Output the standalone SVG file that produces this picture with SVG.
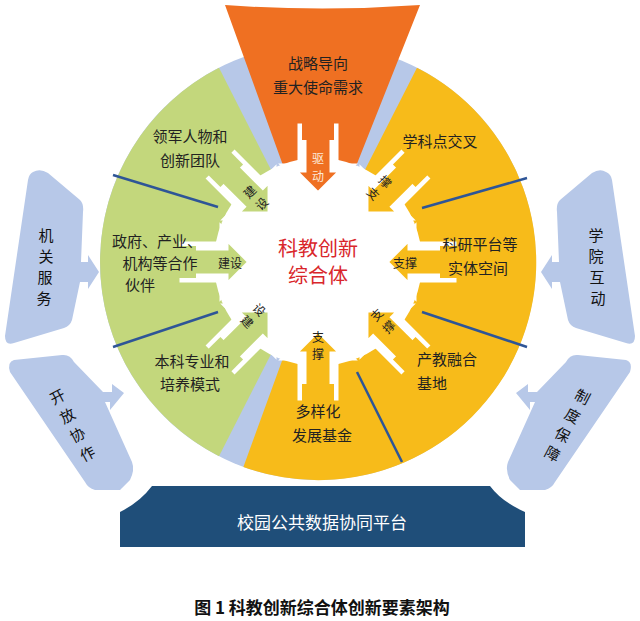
<svg xmlns="http://www.w3.org/2000/svg" width="640" height="621" viewBox="0 0 640 621">
<style>
text{font-family:"Noto Sans CJK SC","Noto Sans",sans-serif;text-anchor:middle;dominant-baseline:central}
.s{font-size:15px;fill:#222}
.a{font-size:12px;fill:#222}
.v{font-size:15px;fill:#111}
.side{fill:#b7c8e8}
.div{stroke:#2e5597;stroke-width:2.5}
</style>
<rect width="640" height="621" fill="#fff"/>
<g id="sides">
<path class="side" d="M33,172 Q40,168 48,173 L80,200 Q84,204 83,212 L81,262 L88,262 L88,255 L99,272 L88,289 L88,282 L80,282 L72,320 Q70,326 64,328 L14,343 Q5,346 5,336 L28,180 Q29,174 33,172 Z"/>
<path class="side" d="M14,360 L62,355 Q70,354 74,362 L103,392 L112,392 L112,384 L124,393 L110,410 L110,402 L105,402 L132,462 Q135,470 130,480 L120,490 L95,490 Q88,488 85,482 L10,372 Q7,362 14,360 Z"/>
<path class="side" d="M606,172 Q600,168 592,173 L560,200 Q556,204 557,212 L559,262 L552,262 L552,255 L541,272 L552,289 L552,282 L560,282 L568,320 Q570,326 576,328 L626,343 Q635,346 635,336 L612,180 Q611,174 606,172 Z"/>
<path class="side" d="M626,360 L578,355 Q570,354 566,362 L537,392 L528,392 L528,384 L516,393 L530,410 L530,402 L535,402 L508,462 Q505,470 510,480 L520,490 L545,490 Q552,488 555,482 L630,372 Q633,362 626,360 Z"/>
<text x="46" y="234" class="v">机</text><text x="46" y="255" class="v">关</text><text x="45" y="276" class="v">服</text><text x="44" y="297" class="v">务</text>
<text transform="translate(57,396) rotate(-28)" class="v">开</text><text transform="translate(67,415) rotate(-28)" class="v">放</text><text transform="translate(77,434) rotate(-28)" class="v">协</text><text transform="translate(87,453) rotate(-28)" class="v">作</text>
<text x="596" y="234" class="v">学</text><text x="596" y="255" class="v">院</text><text x="597" y="276" class="v">互</text><text x="598" y="297" class="v">动</text>
<text transform="translate(583,396) rotate(28)" class="v">制</text><text transform="translate(573,415) rotate(28)" class="v">度</text><text transform="translate(563,434) rotate(28)" class="v">保</text><text transform="translate(553,453) rotate(28)" class="v">障</text>
</g>
<g id="wheel">
<circle cx="318" cy="262" r="218" fill="#b7c8e8"/>
<path d="M318,262 L417,67.8 A218,218 0 0 1 243.4,466.9 Z" fill="#f7bb1a"/>
<path d="M318,262 L219,456.2 A218,218 0 0 1 219,67.8 Z" fill="#c3d77c"/>
<path d="M225,5 Q322,12 420,5 L318,262 Z" fill="#ef7022"/>
</g>
<g id="connectors">
<line class="div" x1="113" y1="175" x2="218" y2="207"/>
<line class="div" x1="113" y1="347" x2="218" y2="312"/>
<line class="div" x1="422" y1="208" x2="527" y2="178"/>
<line class="div" x1="422" y1="312" x2="527" y2="347"/>
<line class="div" x1="357" y1="372" x2="402" y2="462"/>
</g>
<g id="core">
<circle cx="318" cy="262" r="104" fill="#fff"/>
<g stroke="#fff" stroke-width="9" stroke-linejoin="miter">
<path d="M302,128 L334,128 L334,168 L347,168 L318,197 L289,168 L302,168 Z" fill="#ef7022"/>
<path d="M302,128 L334,128 L334,168 L347,168 L318,197 L289,168 L302,168 Z" fill="#f7bb1a" transform="rotate(45 318 262)"/>
<path d="M302,128 L334,128 L334,168 L347,168 L318,197 L289,168 L302,168 Z" fill="#f7bb1a" transform="rotate(90 318 262)"/>
<path d="M302,128 L334,128 L334,168 L347,168 L318,197 L289,168 L302,168 Z" fill="#f7bb1a" transform="rotate(135 318 262)"/>
<path d="M302,128 L334,128 L334,168 L347,168 L318,197 L289,168 L302,168 Z" fill="#f7bb1a" transform="rotate(180 318 262)"/>
<path d="M302,128 L334,128 L334,168 L347,168 L318,197 L289,168 L302,168 Z" fill="#c3d77c" transform="rotate(225 318 262)"/>
<path d="M302,128 L334,128 L334,168 L347,168 L318,197 L289,168 L302,168 Z" fill="#c3d77c" transform="rotate(270 318 262)"/>
<path d="M302,128 L334,128 L334,168 L347,168 L318,197 L289,168 L302,168 Z" fill="#c3d77c" transform="rotate(315 318 262)"/>
</g>
<g stroke="none">
<path d="M302,120 L334,120 L334,140 L302,140 Z" fill="#ef7022"/>
<path d="M302,120 L334,120 L334,140 L302,140 Z" fill="#f7bb1a" transform="rotate(45 318 262)"/>
<path d="M302,120 L334,120 L334,140 L302,140 Z" fill="#f7bb1a" transform="rotate(90 318 262)"/>
<path d="M302,120 L334,120 L334,140 L302,140 Z" fill="#f7bb1a" transform="rotate(135 318 262)"/>
<path d="M302,120 L334,120 L334,140 L302,140 Z" fill="#f7bb1a" transform="rotate(180 318 262)"/>
<path d="M302,120 L334,120 L334,140 L302,140 Z" fill="#c3d77c" transform="rotate(225 318 262)"/>
<path d="M302,120 L334,120 L334,140 L302,140 Z" fill="#c3d77c" transform="rotate(270 318 262)"/>
<path d="M302,120 L334,120 L334,140 L302,140 Z" fill="#c3d77c" transform="rotate(315 318 262)"/>
</g>
<text x="318" y="157" class="a" style="fill:#fde9d9">驱</text><text x="318" y="175" class="a" style="fill:#fde9d9">动</text>
<text transform="translate(374,193) rotate(45)" class="a">支</text><text transform="translate(386,181) rotate(45)" class="a">撑</text>
<text x="405" y="262" class="a">支撑</text>
<text transform="translate(376,314) rotate(-45)" class="a">支</text><text transform="translate(388,326) rotate(-45)" class="a">撑</text>
<text x="318" y="336" class="a">支</text><text x="318" y="353" class="a">撑</text>
<text transform="translate(248,321) rotate(45)" class="a">建</text><text transform="translate(260,309) rotate(45)" class="a">设</text>
<text x="230" y="262" class="a">建设</text>
<text transform="translate(249,191) rotate(-45)" class="a">建</text><text transform="translate(261,203) rotate(-45)" class="a">设</text>
<text x="318" y="247" style="font-size:20px;fill:#d9262b">科教创新</text>
<text x="318" y="274" style="font-size:20px;fill:#d9262b">综合体</text>
</g>
<g id="labels">
<text x="318" y="62" class="s">战略导向</text><text x="318" y="86" class="s">重大使命需求</text>
<text x="190" y="135" class="s">领军人物和</text><text x="190" y="159" class="s">创新团队</text>
<text x="157" y="240" class="s">政府、产业、</text><text x="160" y="262" class="s">机构等合作</text><text x="140" y="284" class="s">伙伴</text>
<text x="192" y="360" class="s">本科专业和</text><text x="190" y="383" class="s">培养模式</text>
<text x="440" y="140" class="s">学科点交叉</text>
<text x="480" y="243" class="s">科研平台等</text><text x="478" y="267" class="s">实体空间</text>
<text x="447" y="358" class="s">产教融合</text><text x="432" y="382" class="s">基地</text>
<text x="318" y="410" class="s">多样化</text><text x="322" y="434" class="s">发展基金</text>
</g>
<g id="platform">
<path d="M120,547 L120,512 Q140,502 152,486 L490,486 Q502,502 525,512 L525,547 Z" fill="#1f4e79"/>
<text x="322" y="521" style="font-size:17px;fill:#fff">校园公共数据协同平台</text>
</g>
<text x="322" y="606" style="font-size:17px;fill:#111;font-weight:bold">图 1  科教创新综合体创新要素架构</text>
</svg>
